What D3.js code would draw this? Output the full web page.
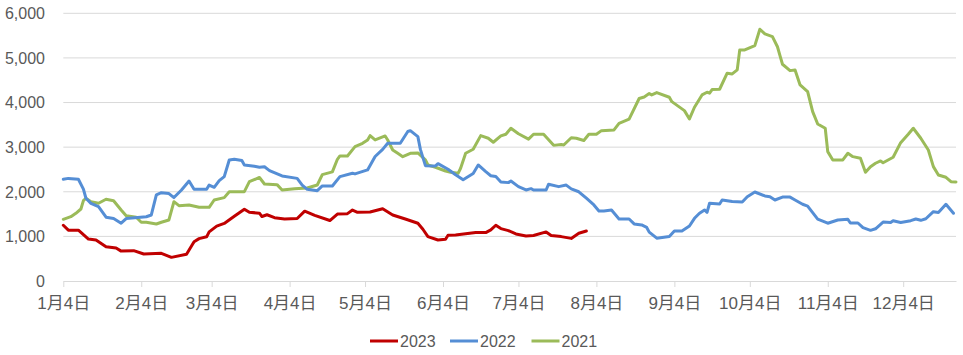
<!DOCTYPE html>
<html><head><meta charset="utf-8">
<script src="https://cdn.jsdelivr.net/npm/d3@7"></script>
<style>
html,body{margin:0;padding:0;background:#fff;}
text{font-family:"Liberation Sans","Noto Sans CJK SC",sans-serif;}
</style></head>
<body><svg id="c" width="963" height="355"></svg>
<script>
// ---- data (dates as M/D, values) ----
const seriesNames = ["2023", "2022", "2021"];
const seriesColors = ["#C00000", "#558ED5", "#9BBB59"];

const dates2023 = ["1/4","1/6","1/10","1/14","1/17","1/21","1/25","1/27","2/1","2/5","2/12","2/16","2/22","2/25","2/27","3/2","3/3","3/6","3/9","3/13","3/17","3/19","3/23","3/24","3/26","3/29","4/2","4/7","4/10","4/14","4/20","4/23","4/27","4/29","5/1","5/6","5/11","5/15","5/20","5/25","5/27","5/29","6/2","6/5","6/6","6/9","6/13","6/17","6/21","6/23","6/25","6/27","6/30","7/3","7/7","7/10","7/15","7/17","7/21","7/25","7/28","7/31"];
const values2023 = [1250,1140,1140,940,920,770,740,670,680,605,620,530,600,880,950,990,1100,1230,1290,1450,1610,1540,1520,1445,1485,1420,1390,1400,1565,1470,1355,1500,1510,1590,1540,1545,1620,1480,1390,1295,1160,995,920,935,1025,1030,1060,1085,1085,1145,1250,1175,1130,1055,1010,1020,1100,1020,995,955,1070,1120];

const dates2022 = ["1/4","1/6","1/10","1/12","1/13","1/15","1/18","1/21","1/24","1/27","1/29","2/6","2/8","2/10","2/12","2/15","2/17","2/20","2/23","2/25","3/2","3/3","3/5","3/7","3/9","3/11","3/13","3/16","3/17","3/21","3/23","3/25","3/27","4/1","4/7","4/9","4/11","4/15","4/17","4/21","4/24","4/29","4/30","5/5","5/8","5/11","5/13","5/18","5/21","5/22","5/25","5/26","5/28","6/1","6/2","6/6","6/9","6/12","6/16","6/18","6/21","6/23","6/25","6/27","6/30","7/1","7/4","7/7","7/9","7/10","7/15","7/16","7/20","7/23","7/25","7/28","7/31","8/3","8/5","8/7","8/10","8/13","8/17","8/19","8/22","8/24","8/25","8/28","9/2","9/4","9/7","9/10","9/12","9/14","9/16","9/17","9/18","9/22","9/23","9/27","10/1","10/3","10/6","10/10","10/12","10/14","10/17","10/20","10/22","10/25","10/27","10/31","11/4","11/8","11/12","11/13","11/16","11/18","11/21","11/23","11/26","11/29","11/30","12/3","12/7","12/9","12/11","12/13","12/16","12/18","12/21","12/24"];
const values2022 = [2280,2300,2280,2060,1855,1740,1665,1430,1400,1295,1400,1440,1480,1930,1980,1960,1870,2040,2240,2055,2055,2150,2100,2250,2340,2713,2730,2700,2600,2570,2550,2560,2475,2355,2300,2150,2055,2025,2130,2130,2340,2415,2400,2490,2790,2950,3087,3087,3350,3370,3236,2950,2585,2580,2630,2505,2380,2270,2410,2600,2450,2360,2340,2220,2205,2240,2115,2040,2070,2040,2040,2170,2115,2150,2065,2000,1855,1705,1570,1570,1590,1390,1390,1280,1256,1200,1095,960,995,1120,1120,1233,1405,1518,1592,1540,1742,1727,1816,1780,1770,1890,1995,1906,1890,1816,1880,1880,1816,1720,1680,1385,1295,1368,1383,1300,1300,1195,1135,1170,1320,1310,1350,1310,1352,1390,1360,1395,1554,1535,1720,1518];

const dates2021 = ["1/4","1/7","1/9","1/11","1/12","1/13","1/15","1/18","1/21","1/24","1/27","1/29","2/2","2/4","2/6","2/10","2/12","2/15","2/17","2/19","2/23","2/27","3/3","3/5","3/9","3/11","3/17","3/19","3/23","3/25","3/30","4/1","4/6","4/11","4/15","4/17","4/21","4/23","4/24","4/27","4/30","5/3","5/5","5/6","5/8","5/12","5/13","5/15","5/17","5/19","5/22","5/25","5/28","5/29","6/1","6/5","6/7","6/10","6/11","6/13","6/16","6/19","6/22","6/24","6/27","6/29","7/1","7/4","7/8","7/10","7/14","7/18","7/21","7/22","7/25","7/27","7/30","8/1","8/4","8/6","8/11","8/13","8/17","8/21","8/23","8/25","8/26","8/28","9/2","9/3","9/8","9/10","9/12","9/15","9/17","9/18","9/19","9/22","9/25","9/27","9/29","9/30","10/2","10/6","10/8","10/10","10/13","10/15","10/16","10/17","10/20","10/22","10/24","10/27","10/29","10/31","11/3","11/4","11/6","11/10","11/12","11/14","11/17","11/19","11/21","11/23","11/25","11/26","11/30","12/3","12/6","12/8","12/11","12/14","12/16","12/18","12/21","12/23","12/25"];
const values2021 = [1383,1442,1518,1614,1800,1854,1778,1742,1832,1800,1592,1464,1428,1316,1316,1278,1316,1368,1778,1688,1704,1652,1652,1816,1868,2002,2002,2226,2320,2175,2160,2040,2070,2085,2152,2385,2445,2728,2803,2803,3012,3087,3161,3258,3161,3251,3161,2937,2863,2787,2863,2870,2713,2600,2549,2466,2437,2414,2527,2863,2952,3258,3200,3110,3251,3289,3424,3300,3180,3290,3290,3040,3060,3049,3210,3200,3150,3290,3289,3370,3386,3535,3630,4090,4125,4200,4170,4222,4118,4020,3819,3632,3894,4170,4230,4210,4290,4298,4657,4641,4731,5179,5180,5276,5643,5538,5478,5250,5050,4858,4715,4730,4395,4245,3796,3520,3424,2900,2713,2713,2863,2787,2751,2437,2563,2639,2690,2650,2773,3101,3289,3424,3200,2937,2563,2377,2325,2226,2220];

const xTickLabels = ["1/4","2/4","3/4","4/4","5/4","6/4","7/4","8/4","9/4","10/4","11/4","12/4"];
const yTicks = [0,1000,2000,3000,4000,5000,6000];
const xDomain = ["1/4","12/25"];

// ---- drawing ----
const YEAR = 2021;
const toDate = s => { const [m,d] = s.split("/").map(Number); return new Date(YEAR, m-1, d); };
const svg = d3.select("#c");
const L = 63.3, R = 956, T = 13.3, B = 281;
const x = d3.scaleTime().domain(xDomain.map(toDate)).range([L, R]);
const y = d3.scaleLinear().domain([0, 6000]).range([B, T]);

// gridlines
svg.append("g").selectAll("line").data(yTicks.filter(v => v > 0)).join("line")
  .attr("x1", L).attr("x2", R).attr("y1", d => y(d)).attr("y2", d => y(d))
  .attr("stroke", "#D9D9D9").attr("stroke-width", 1);

// y labels
svg.append("g").selectAll("text").data(yTicks).join("text")
  .attr("x", 45).attr("y", d => y(d)).attr("dy", "0.36em")
  .attr("text-anchor", "end").attr("font-size", 16).attr("fill", "#595959")
  .text(d => d3.format(",")(d));

// x axis
const xAxis = d3.axisBottom(x)
  .tickValues(xTickLabels.map(toDate))
  .tickSize(6).tickSizeOuter(0)
  .tickFormat(d => (d.getMonth()+1) + "月" + d.getDate() + "日");
const gx = svg.append("g").attr("transform", `translate(0,${B})`).call(xAxis);
gx.select(".domain").attr("stroke", "#D9D9D9").attr("stroke-width", 1);
gx.selectAll(".tick line").attr("stroke", "#D9D9D9");
gx.selectAll(".tick text").attr("fill", "#595959").attr("font-size", 17)
  .attr("y", 13).attr("dy", "0.9em")
  .attr("font-family", "'Liberation Sans','Noto Sans CJK SC',sans-serif");

// lines
const series = [
  {name: seriesNames[0], dates: dates2023, values: values2023, color: seriesColors[0]},
  {name: seriesNames[1], dates: dates2022, values: values2022, color: seriesColors[1]},
  {name: seriesNames[2], dates: dates2021, values: values2021, color: seriesColors[2]}
];
const line = d3.line().x(d => x(d[0])).y(d => y(d[1]));
[...series].reverse().forEach(s => {
  const pts = s.dates.map((dt, i) => [toDate(dt), s.values[i]]);
  svg.append("path").datum(pts).attr("d", line)
    .attr("fill", "none").attr("stroke", s.color).attr("stroke-width", 3)
    .attr("stroke-linejoin", "round").attr("stroke-linecap", "round");
});

// legend
const legendX = [370, 450, 531.5];
const lg = svg.append("g");
series.forEach((s, i) => {
  lg.append("line").attr("x1", legendX[i]).attr("x2", legendX[i] + 28)
    .attr("y1", 341).attr("y2", 341).attr("stroke", s.color).attr("stroke-width", 3);
  lg.append("text").attr("x", legendX[i] + 30).attr("y", 341).attr("dy", "0.36em")
    .attr("font-size", 16).attr("fill", "#595959").text(s.name);
});
</script>
</body></html>
